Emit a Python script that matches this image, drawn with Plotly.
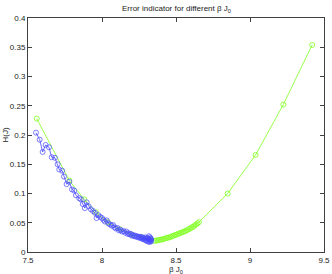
import plotly.graph_objects as go

blue_x = [7.554,7.579,7.599,7.619,7.642,7.660,7.682,7.700,7.711,7.731,
          7.743,7.761,7.779,7.797,7.812,7.824,7.846,7.857,7.870,7.884,
          7.896,7.910,7.925,7.940,7.952,7.963,7.975,7.988,8.000,8.010,
          8.020,8.032,8.043,8.055,8.065,8.075,8.085,8.095,8.105,8.115,
          8.125,8.135,8.145,8.155,8.165,8.172,8.180,8.188,8.195,8.202,
          8.210,8.217,8.224,8.231,8.238,8.245,8.251,8.257,8.263,8.268,
          8.273,8.278,8.283,8.288,8.292,8.296,8.300,8.304,8.308,8.311,
          8.314,8.317,8.320,8.322,8.324,8.326,8.328,8.330,8.331,8.332]
blue_y = [0.204,0.192,0.171,0.183,0.179,0.162,0.161,0.150,0.141,0.139,
          0.129,0.116,0.120,0.107,0.105,0.097,0.092,0.090,0.082,0.075,
          0.085,0.078,0.073,0.070,0.067,0.058,0.063,0.060,0.058,0.055,
          0.052,0.054,0.049,0.047,0.045,0.046,0.042,0.040,0.041,0.037,
          0.038,0.035,0.036,0.033,0.035,0.031,0.032,0.030,0.031,0.028,
          0.029,0.027,0.028,0.026,0.027,0.025,0.026,0.024,0.026,0.023,
          0.025,0.022,0.024,0.021,0.025,0.020,0.023,0.019,0.024,0.018,
          0.022,0.027,0.017,0.021,0.025,0.019,0.023,0.020,0.018,0.022]

green_x = [7.559,7.78,7.88,7.96,8.04,8.12,8.20,8.27,8.33,
           8.355,8.365,8.375,8.385,8.395,8.405,8.415,8.425,8.435,8.445,
           8.455,8.465,8.475,8.485,8.495,8.505,8.515,8.525,8.535,8.545,
           8.555,8.565,8.575,8.585,8.595,8.605,8.615,8.625,8.635,8.645,8.655,
           8.849,9.038,9.225,9.42]
green_y = [0.228,0.122,0.090,0.068,0.051,0.039,0.030,0.025,0.022,
           0.019,0.0195,0.020,0.0205,0.021,0.0215,0.022,0.023,0.024,0.0245,
           0.025,0.026,0.027,0.028,0.029,0.030,0.031,0.032,0.033,0.034,
           0.035,0.036,0.0375,0.039,0.040,0.042,0.043,0.045,0.047,0.049,0.051,
           0.100,0.166,0.252,0.354]

x_ticks = [7.5, 8, 8.5, 9, 9.5]
y_ticks = [0, 0.05, 0.1, 0.15, 0.2, 0.25, 0.3, 0.35, 0.4]
y_ticklabels = ["0", "0.05", "0.1", "0.15", "0.2", "0.25", "0.3", "0.35", "0.4"]

FONT = dict(family="Liberation Sans, Arial", size=8, color="#222")

fig = go.Figure()
fig.add_trace(go.Scatter(x=green_x, y=green_y, mode="lines+markers",
                         line=dict(color="#7FFF1F", width=0.8),
                         marker=dict(symbol="circle-open", size=5, color="#7FFF1F",
                                     line=dict(width=0.8))))
fig.add_trace(go.Scatter(x=blue_x, y=blue_y, mode="lines+markers",
                         line=dict(color="#4848FF", width=0.8),
                         marker=dict(symbol="circle-open", size=5, color="#4848FF",
                                     line=dict(width=0.7))))

axis_common = dict(showline=True, linecolor="#404040", linewidth=1, mirror="ticks",
                   ticks="inside", ticklen=4, tickcolor="#404040",
                   showgrid=False, zeroline=False, automargin=False,
                   tickfont=FONT)

fig.update_layout(
    width=332, height=274,
    margin=dict(l=28, r=8, t=18, b=22),
    paper_bgcolor="white", plot_bgcolor="white",
    showlegend=False,
    xaxis=dict(range=[7.5, 9.5], tickvals=x_ticks, ticktext=[str(v) for v in x_ticks],
               **axis_common),
    yaxis=dict(range=[0, 0.4], tickvals=y_ticks, ticktext=y_ticklabels,
               **axis_common),
    annotations=[
        dict(text="Error indicator for different β J<sub>0</sub>", xref="paper", yref="paper",
             x=0.5, y=1.0, xanchor="center", yanchor="bottom", yshift=2,
             showarrow=False, font=FONT),
        dict(text="β J<sub>0</sub>", xref="paper", yref="paper",
             x=0.5, y=0, xanchor="center", yanchor="top", yshift=-11,
             showarrow=False, font=FONT),
        dict(text="H(J)", xref="paper", yref="paper", textangle=-90,
             x=0, y=0.5, xanchor="right", yanchor="middle", xshift=-17,
             showarrow=False, font=FONT),
    ],
)

fig.write_html("out.html", config={"displayModeBar": False},
               post_script="document.body.style.margin='0';document.body.style.padding='0';")
